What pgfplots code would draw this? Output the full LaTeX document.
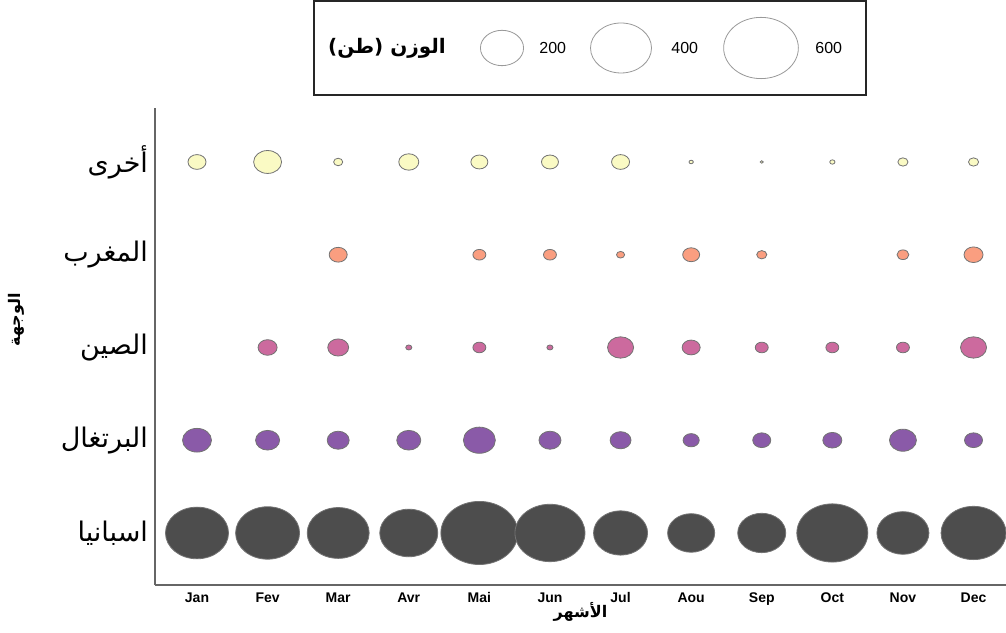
\documentclass[border=0pt]{standalone}
\usepackage{pgfplots}
\pgfplotsset{compat=1.18}
\usepackage{pgfplotstable}
\usepackage{fontspec}
\setmainfont{Liberation Sans}
\newfontfamily\arabicfont[Script=Arabic]{DejaVu Sans}
\TeXXeTstate=1

\definecolor{cSpain}{HTML}{4D4D4D}
\definecolor{cPort}{HTML}{8A5AA8}
\definecolor{cChina}{HTML}{CC6A9E}
\definecolor{cMaroc}{HTML}{FA9E80}
\definecolor{cOther}{HTML}{FAFAC4}

% weight (tons) per month, 1 = Jan
\pgfplotstableread{
m v
1 427
2 440
3 413
4 362
5 637
6 527
7 314
8 238
9 248
10 542
11 291
12 454
}\spain
\pgfplotstableread{
m v
1 90
2 62
3 52
4 62
5 110
6 52
7 47
8 28
9 35
10 39
11 78
12 35
}\portugal
\pgfplotstableread{
m v
2 39
3 47
4 4
5 18
6 4
7 73
8 35
9 18
10 18
11 18
12 73
}\china
\pgfplotstableread{
m v
3 35
5 18
6 18
7 7
8 31
9 11
11 15
12 39
}\maroc
\pgfplotstableread{
m v
1 35
2 84
3 9
4 43
5 31
6 31
7 35
8 2
9 1
10 3
11 11
12 11
}\other
\pgfplotstableread{
x y v
502 -48 200
621 -48 400
761 -48 600
}\sizes

\pgfplotsset{
  bubble/.style 2 args={scatter, only marks, mark=*,
    point meta=\thisrow{v},
    scatter/use mapped color={draw=#2, fill=#1},
    visualization depends on={0.625*sqrt(\thisrow{v}) \as \rad},
    scatter/@pre marker code/.append style={/tikz/mark size=\rad},
    mark options={xscale=1.22, line width=0.4pt}},
}

\begin{document}
\begin{tikzpicture}
\path[use as bounding box] (0,0) rectangle (503pt,316pt);

\begin{axis}[
  at={(77.5pt,23.5pt)}, anchor=south west,
  scale only axis, width=425.5pt, height=238.5pt,
  xmin=0.405, xmax=12.46, ymin=0.439, ymax=5.582,
  axis x line*=bottom, axis y line*=left,
  axis line style={draw=black!60, line width=0.75pt},
  major tick length=0pt,
  xtick={1,...,12},
  xticklabels={Jan,Fev,Mar,Avr,Mai,Jun,Jul,Aou,Sep,Oct,Nov,Dec},
  x tick label style={font=\bfseries\fontsize{7}{8}\selectfont, text height=5.2pt, text depth=0pt},
  ytick={1,...,5},
  yticklabels={{\beginR اسبانيا\endR},{\beginR البرتغال\endR},{\beginR الصين\endR},{\beginR المغرب\endR},{\beginR أخرى\endR}},
  y tick label style={font=\arabicfont\fontsize{13.5}{15}\selectfont},
  xlabel={\beginR الأشهر\endR},
  xlabel style={at={(axis description cs:0.5,0)}, anchor=center, yshift=-13.5pt,
    font=\arabicfont\bfseries\fontsize{8}{9}\selectfont},
  ylabel={\beginR الوجهة\endR},
  ylabel style={at={(axis description cs:-0.1633,0.556)}, anchor=center,
    font=\arabicfont\bfseries\fontsize{8}{9}\selectfont},
  clip=false,
]
\addplot[bubble={cSpain}{black!55}] table[x=m, y expr=1] {\spain};
\addplot[bubble={cPort}{black!55}] table[x=m, y expr=2] {\portugal};
\addplot[bubble={cChina}{black!55}] table[x=m, y expr=3] {\china};
\addplot[bubble={cMaroc}{black!55}] table[x=m, y expr=4] {\maroc};
\addplot[bubble={cOther}{black!55}] table[x=m, y expr=5] {\other};
\end{axis}

% size key
\begin{axis}[
  at={(157pt,268.5pt)}, anchor=south west,
  scale only axis, width=276pt, height=47pt,
  xmin=314, xmax=866, ymin=-95, ymax=-1,
  xtick=\empty, ytick=\empty,
  axis line style={draw=black!85, line width=0.9pt},
  clip=false,
]
\addplot[bubble={white}{black!40}] table[x=x, y=y] {\sizes};
\node[anchor=center, font=\arabicfont\bfseries\fontsize{10}{12}\selectfont] at (axis cs:387,-48) {\beginR الوزن (طن)\endR};
\node[anchor=west, font=\fontsize{8}{9}\selectfont, inner sep=0pt] at (axis cs:539,-48) {200};
\node[anchor=west, font=\fontsize{8}{9}\selectfont, inner sep=0pt] at (axis cs:671,-48) {400};
\node[anchor=west, font=\fontsize{8}{9}\selectfont, inner sep=0pt] at (axis cs:815,-48) {600};
\end{axis}
\end{tikzpicture}
\end{document}
